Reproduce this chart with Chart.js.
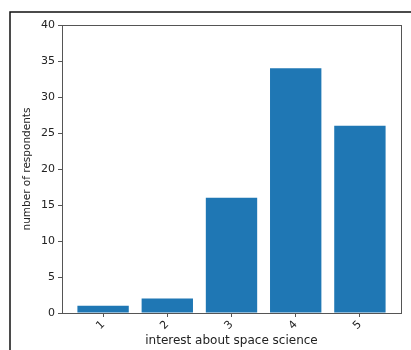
<!DOCTYPE html>
<html>
<head>
<meta charset="utf-8">
<script src="https://cdn.jsdelivr.net/npm/chart.js@4/dist/chart.umd.min.js"></script>
<style>
  html, body { margin: 0; padding: 0; background: #fff; }
  #wrap { width: 411px; height: 350px; }
</style>
</head>
<body>
<div id="wrap"><canvas id="chart"></canvas></div>
<script>
// interest levels and how many people picked each
const interestLevels = ['1', '2', '3', '4', '5'];
const respondents = [1, 2, 16, 34, 26];
const yMax = 40;
const yStep = 5;

const points = interestLevels.map((lvl, i) => ({ x: Number(lvl), y: respondents[i] }));

// matplotlib-like box around the axes plus the screenshot frame
const framePlugin = {
    id: 'frame',
    beforeDraw(chart) {
        const c = chart.ctx;
        c.save();
        c.fillStyle = '#fff';
        c.fillRect(0, 0, chart.width, chart.height);
        c.strokeStyle = '#111';
        c.lineWidth = 1.5;
        c.beginPath();
        c.moveTo(10, chart.height);
        c.lineTo(10, 12);
        c.lineTo(chart.width, 12);
        c.stroke();
        c.restore();
    },
    afterDraw(chart) {
        const a = chart.chartArea;
        const c = chart.ctx;
        c.save();
        c.strokeStyle = '#555';
        c.lineWidth = 1;
        c.strokeRect(a.left + 0.5, a.top + 0.5, a.right - a.left, a.bottom - a.top);
        c.restore();
    }
};

const tickFont = { family: 'DejaVu Sans', size: 11 };

new Chart(document.getElementById('chart'), {
    type: 'bar',
    data: {
        datasets: [{
            data: points,
            backgroundColor: '#1f77b4',
            borderWidth: 0,
            categoryPercentage: 1.0,
            barPercentage: 0.8
        }]
    },
    options: {
        responsive: true,
        maintainAspectRatio: false,
        animation: false,
        layout: { padding: { top: 25, right: 10, left: 0, bottom: 0 } },
        plugins: { legend: { display: false }, tooltip: { enabled: false } },
        scales: {
            x: {
                type: 'linear',
                min: 0.36,
                max: 5.64,
                offset: false,
                afterFit(s) { s.height = 37; },
                grid: { drawOnChartArea: false, offset: false, tickLength: 4, color: '#555' },
                border: { display: true, color: '#555' },
                ticks: {
                    stepSize: 1,
                    includeBounds: false,
                    minRotation: 45,
                    maxRotation: 45,
                    padding: 1,
                    color: '#222',
                    font: tickFont,
                    callback: (v) => interestLevels[v - 1]
                },
                title: {
                    display: true,
                    text: 'interest about space science',
                    color: '#222',
                    font: { family: 'DejaVu Sans', size: 12 },
                    padding: { top: 0, bottom: 2 }
                }
            },
            y: {
                min: 0,
                max: yMax,
                afterFit(s) { s.width = 62; },
                grid: { drawOnChartArea: false, tickLength: 4, color: '#555' },
                border: { display: true, color: '#555' },
                ticks: { stepSize: yStep, padding: 3, color: '#222', font: tickFont },
                title: {
                    display: true,
                    text: 'number of respondents',
                    color: '#222',
                    font: { family: 'DejaVu Sans', size: 10.5 },
                    padding: { top: 21, bottom: 0 }
                }
            }
        }
    },
    plugins: [framePlugin]
});
</script>
</body>
</html>
